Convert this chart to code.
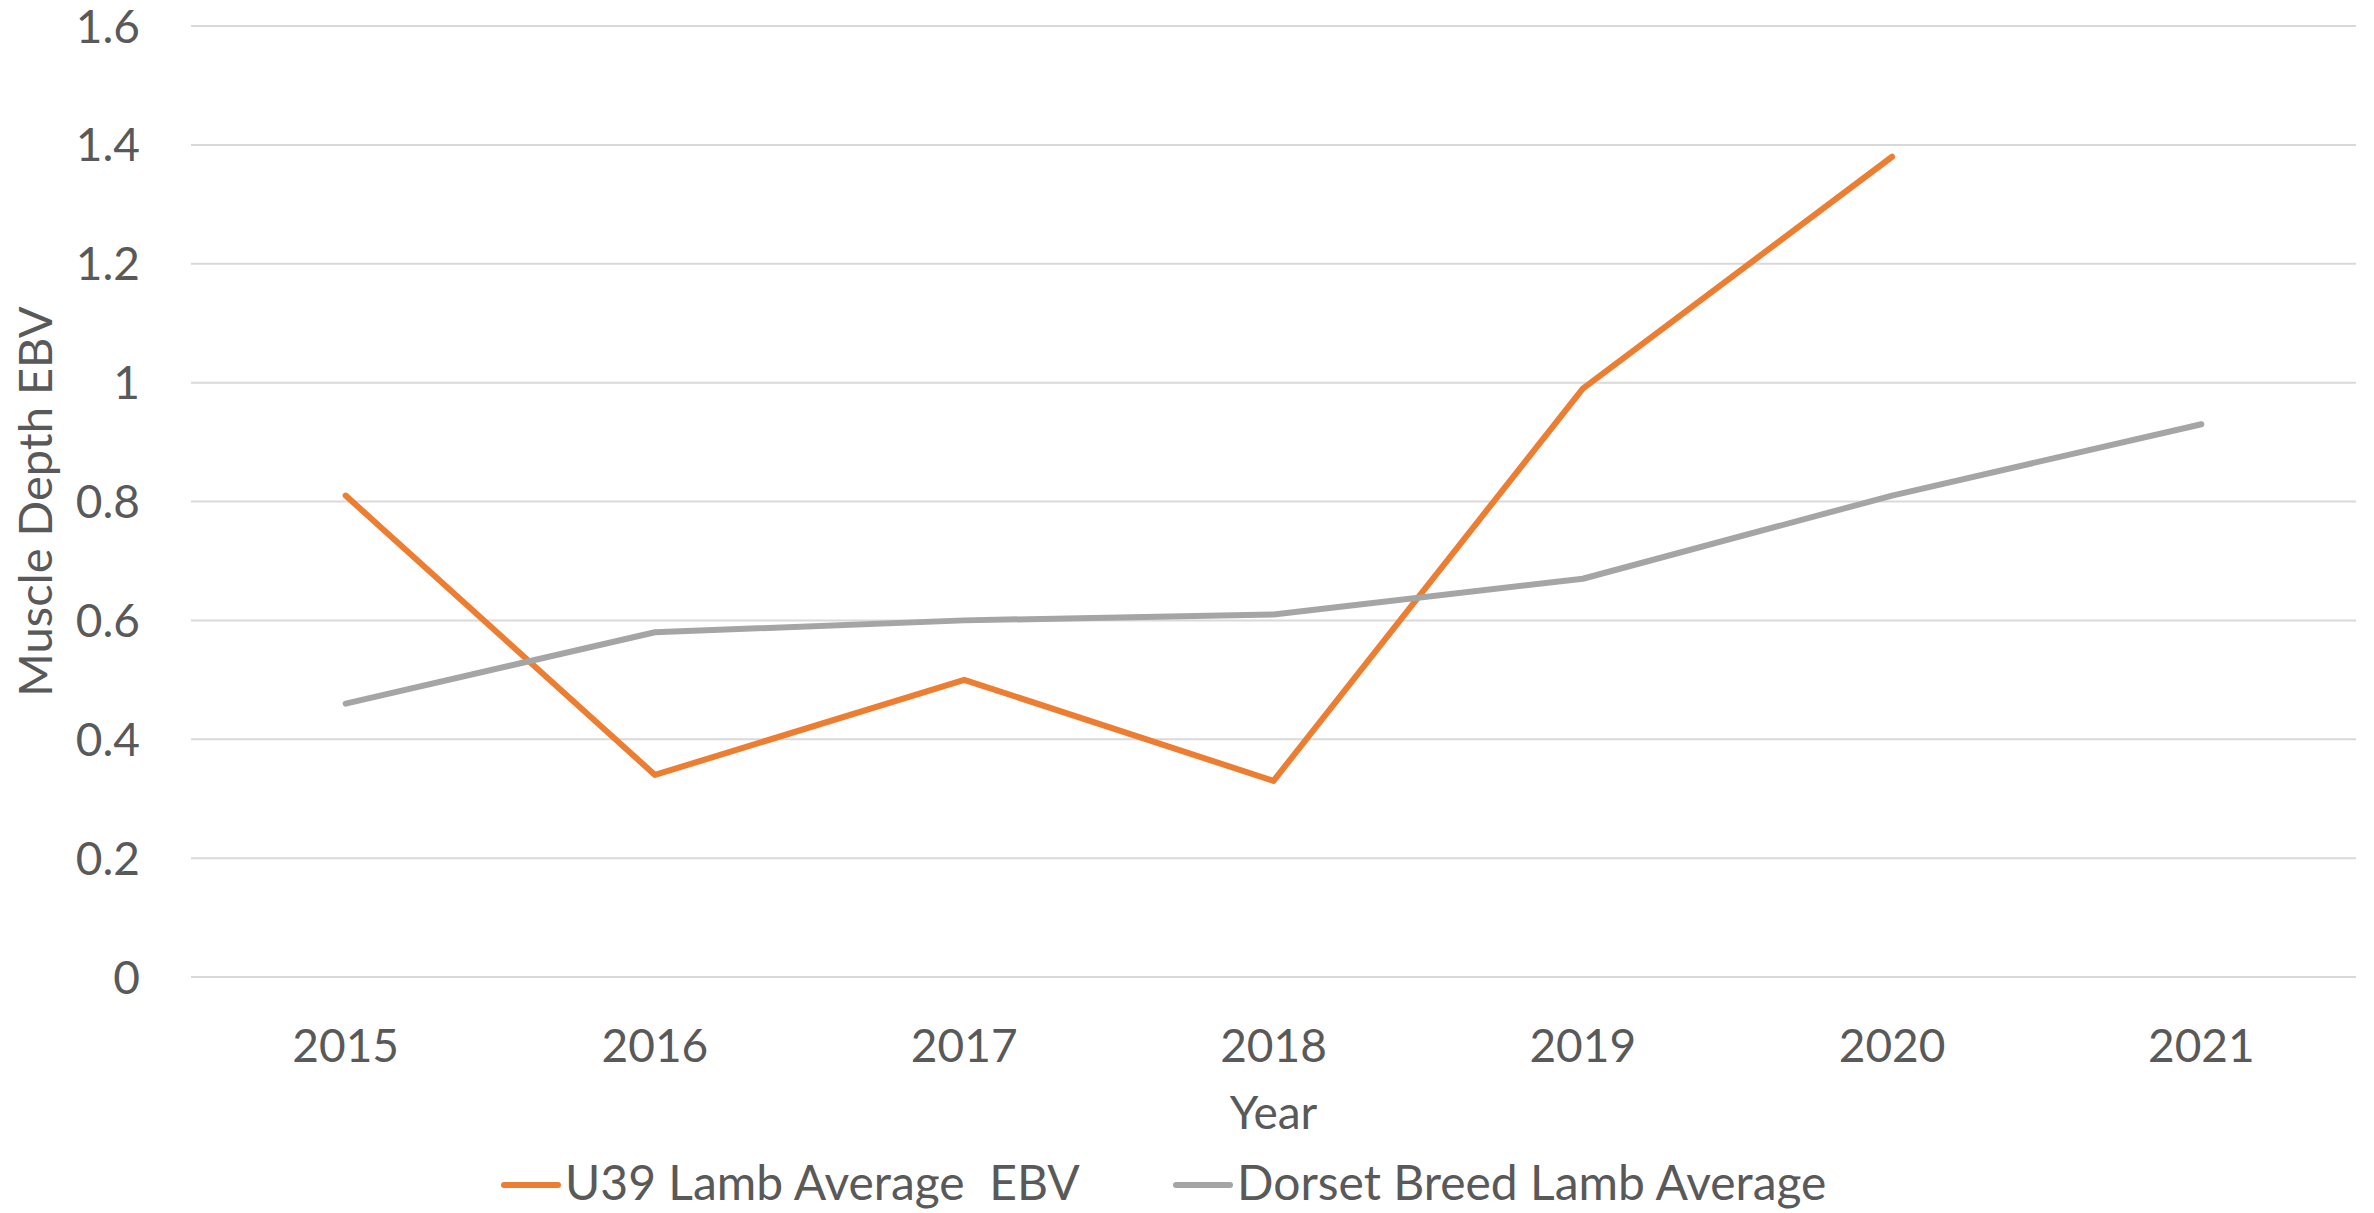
<!DOCTYPE html>
<html>
<head>
<meta charset="utf-8">
<script src="https://cdn.jsdelivr.net/npm/d3@7"></script>
<style>
  body { margin: 0; background: #fff; }
  text { font-family: Lato, "Open Sans", sans-serif; fill: #595959; }
</style>
</head>
<body>
<div id="chart"></div>
<script>
// Données
const years = ["2015", "2016", "2017", "2018", "2019", "2020", "2021"];
const u39 = [0.81, 0.34, 0.50, 0.33, 0.99, 1.38, null];
const dorset = [0.46, 0.58, 0.60, 0.61, 0.67, 0.81, 0.93];
const yTicks = [0, 0.2, 0.4, 0.6, 0.8, 1, 1.2, 1.4, 1.6];
const seriesNames = ["U39 Lamb Average  EBV", "Dorset Breed Lamb Average"];
const seriesColors = ["#ED7D31", "#A5A5A5"];

const width = 2374;
const height = 1213;
const margin = { top: 26, right: 18, bottom: 236, left: 191 };

const svg = d3
  .select("#chart")
  .append("svg")
  .attr("width", width)
  .attr("height", height);

const x = d3
  .scaleBand()
  .domain(years)
  .range([margin.left, width - margin.right]);

const y = d3
  .scaleLinear()
  .domain([0, 1.6])
  .range([height - margin.bottom, margin.top]);

// Grille horizontale
svg
  .append("g")
  .selectAll("line")
  .data(yTicks)
  .enter()
  .append("line")
  .attr("x1", margin.left)
  .attr("x2", width - margin.right)
  .attr("y1", (d) => y(d))
  .attr("y2", (d) => y(d))
  .attr("stroke", "#D9D9D9")
  .attr("stroke-width", 2);

// Labels de l'axe Y
svg
  .append("g")
  .selectAll("text")
  .data(yTicks)
  .enter()
  .append("text")
  .attr("x", 140)
  .attr("y", (d) => y(d))
  .attr("dy", "0.36em")
  .attr("text-anchor", "end")
  .style("font-size", "46px")
  .text((d) => d3.format("~g")(d));

// Labels de l'axe X
svg
  .append("g")
  .selectAll("text")
  .data(years)
  .enter()
  .append("text")
  .attr("x", (d) => x(d) + x.bandwidth() / 2)
  .attr("y", 1045)
  .attr("dy", "0.36em")
  .attr("text-anchor", "middle")
  .style("font-size", "46px")
  .text((d) => d);

// Titres des axes
svg
  .append("text")
  .attr("x", (margin.left + width - margin.right) / 2)
  .attr("y", 1129)
  .attr("text-anchor", "middle")
  .style("font-size", "46px")
  .text("Year");

svg
  .append("text")
  .attr("transform", `translate(52, ${y(0.8)}) rotate(-90)`)
  .attr("text-anchor", "middle")
  .style("font-size", "47px")
  .text("Muscle Depth EBV");

// Lignes des séries
const line = d3
  .line()
  .defined((d) => d != null)
  .x((d, i) => x(years[i]) + x.bandwidth() / 2)
  .y((d) => y(d));

[u39, dorset].forEach((values, k) => {
  svg
    .append("path")
    .datum(values)
    .attr("d", line)
    .attr("fill", "none")
    .attr("stroke", seriesColors[k])
    .attr("stroke-width", 6)
    .attr("stroke-linecap", "round")
    .attr("stroke-linejoin", "round");
});

// Légende
const legendX = [504, 1176];
const legend = svg
  .append("g")
  .selectAll("g")
  .data(seriesNames)
  .enter()
  .append("g")
  .attr("transform", (d, i) => `translate(${legendX[i]}, 1185)`);

legend
  .append("line")
  .attr("x1", 0)
  .attr("x2", 54)
  .attr("stroke", (d, i) => seriesColors[i])
  .attr("stroke-width", 6)
  .attr("stroke-linecap", "round");

legend
  .append("text")
  .attr("x", 61)
  .attr("y", 15)
  .style("font-size", "48px")
  .style("white-space", "pre")
  .text((d) => d);
</script>
</body>
</html>
